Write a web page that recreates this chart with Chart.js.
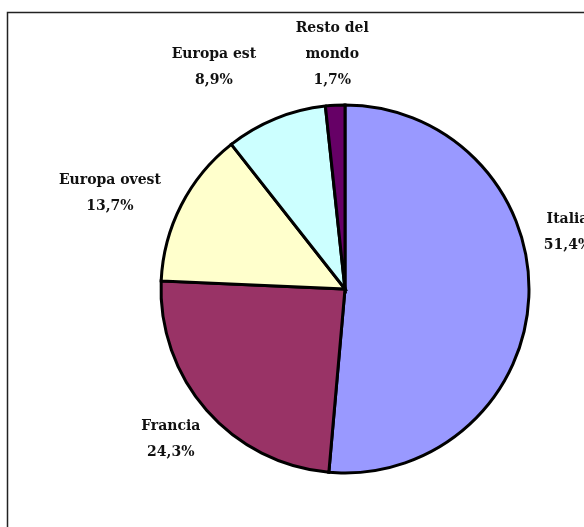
<!DOCTYPE html>
<html lang="it">
<head>
    <meta charset="UTF-8">
    <title>Ripartizione</title>
    <script src="https://cdn.jsdelivr.net/npm/chart.js"></script>
    <style>
        html, body {
            margin: 0;
            padding: 0;
            background: #fff;
        }
        #wrap {
            width: 584px;
            height: 527px;
        }
    </style>
</head>
<body>
    <div id="wrap"><canvas id="pie"></canvas></div>
    <script>
        // data
        const labels = ['Italia', 'Francia', 'Europa ovest', 'Europa est', ['Resto del', 'mondo']];
        const shares = [51.4, 24.3, 13.7, 8.9, 1.7];
        const colors = ['#9999ff', '#993366', '#ffffcc', '#ccffff', '#660066'];

        const fmtPct = v => v.toFixed(1).replace('.', ',') + '%';

        // frame like the Excel chart area
        const framePlugin = {
            id: 'frame',
            beforeDraw(chart) {
                const ctx = chart.ctx;
                ctx.save();
                ctx.fillStyle = '#fff';
                ctx.fillRect(0, 0, chart.width, chart.height);
                ctx.strokeStyle = '#222';
                ctx.lineWidth = 1.5;
                ctx.strokeRect(7.5, 12.5, chart.width + 20, chart.height + 20);
                ctx.restore();
            }
        };

        // outside labels: name + percentage, placed past the rim
        const outsideLabels = {
            id: 'outsideLabels',
            afterDatasetsDraw(chart, args, opts) {
                const ctx = chart.ctx;
                const meta = chart.getDatasetMeta(0);
                const lineH = opts.lineHeight;
                ctx.save();
                ctx.font = opts.font;
                ctx.fillStyle = '#111';
                ctx.textAlign = 'center';
                ctx.textBaseline = 'middle';
                meta.data.forEach((arc, i) => {
                    const p = arc.getProps(['x', 'y', 'startAngle', 'endAngle', 'outerRadius'], true);
                    const mid = (p.startAngle + p.endAngle) / 2;
                    const ux = Math.cos(mid), uy = Math.sin(mid);
                    const name = chart.data.labels[i];
                    const lines = (Array.isArray(name) ? name : [name]).concat(fmtPct(shares[i]));
                    const w = Math.max(...lines.map(l => ctx.measureText(l).width));
                    const h = lines.length * lineH;
                    const nudge = opts.nudge[i] || [0, 0];
                    const cx = p.x + ux * (p.outerRadius + opts.gapX + w / 2) + nudge[0];
                    const cy = p.y + uy * (p.outerRadius + opts.gapY + h / 2) + nudge[1];
                    lines.forEach((l, k) => ctx.fillText(l, cx, cy - h / 2 + lineH * (k + 0.5)));
                });
                ctx.restore();
            }
        };

        new Chart(document.getElementById('pie'), {
            type: 'pie',
            data: {
                labels: labels,
                datasets: [{
                    data: shares,
                    backgroundColor: colors,
                    borderColor: '#000',
                    borderWidth: 3,
                    borderJoinStyle: 'miter'
                }]
            },
            options: {
                responsive: true,
                maintainAspectRatio: false,
                animation: false,
                radius: 184,
                layout: {
                    padding: { left: 161, right: 55, top: 105, bottom: 54 }
                },
                plugins: {
                    legend: { display: false },
                    tooltip: { enabled: false },
                    outsideLabels: {
                        font: 'bold 14px "DejaVu Serif"',
                        lineHeight: 26,
                        gapX: 18,
                        gapY: 12,
                        // Excel moved some labels by hand
                        nudge: { 0: [-3, -66], 1: [0, 4], 2: [-10, 6], 3: [-39, -16] }
                    }
                }
            },
            plugins: [framePlugin, outsideLabels]
        });
    </script>
</body>
</html>
